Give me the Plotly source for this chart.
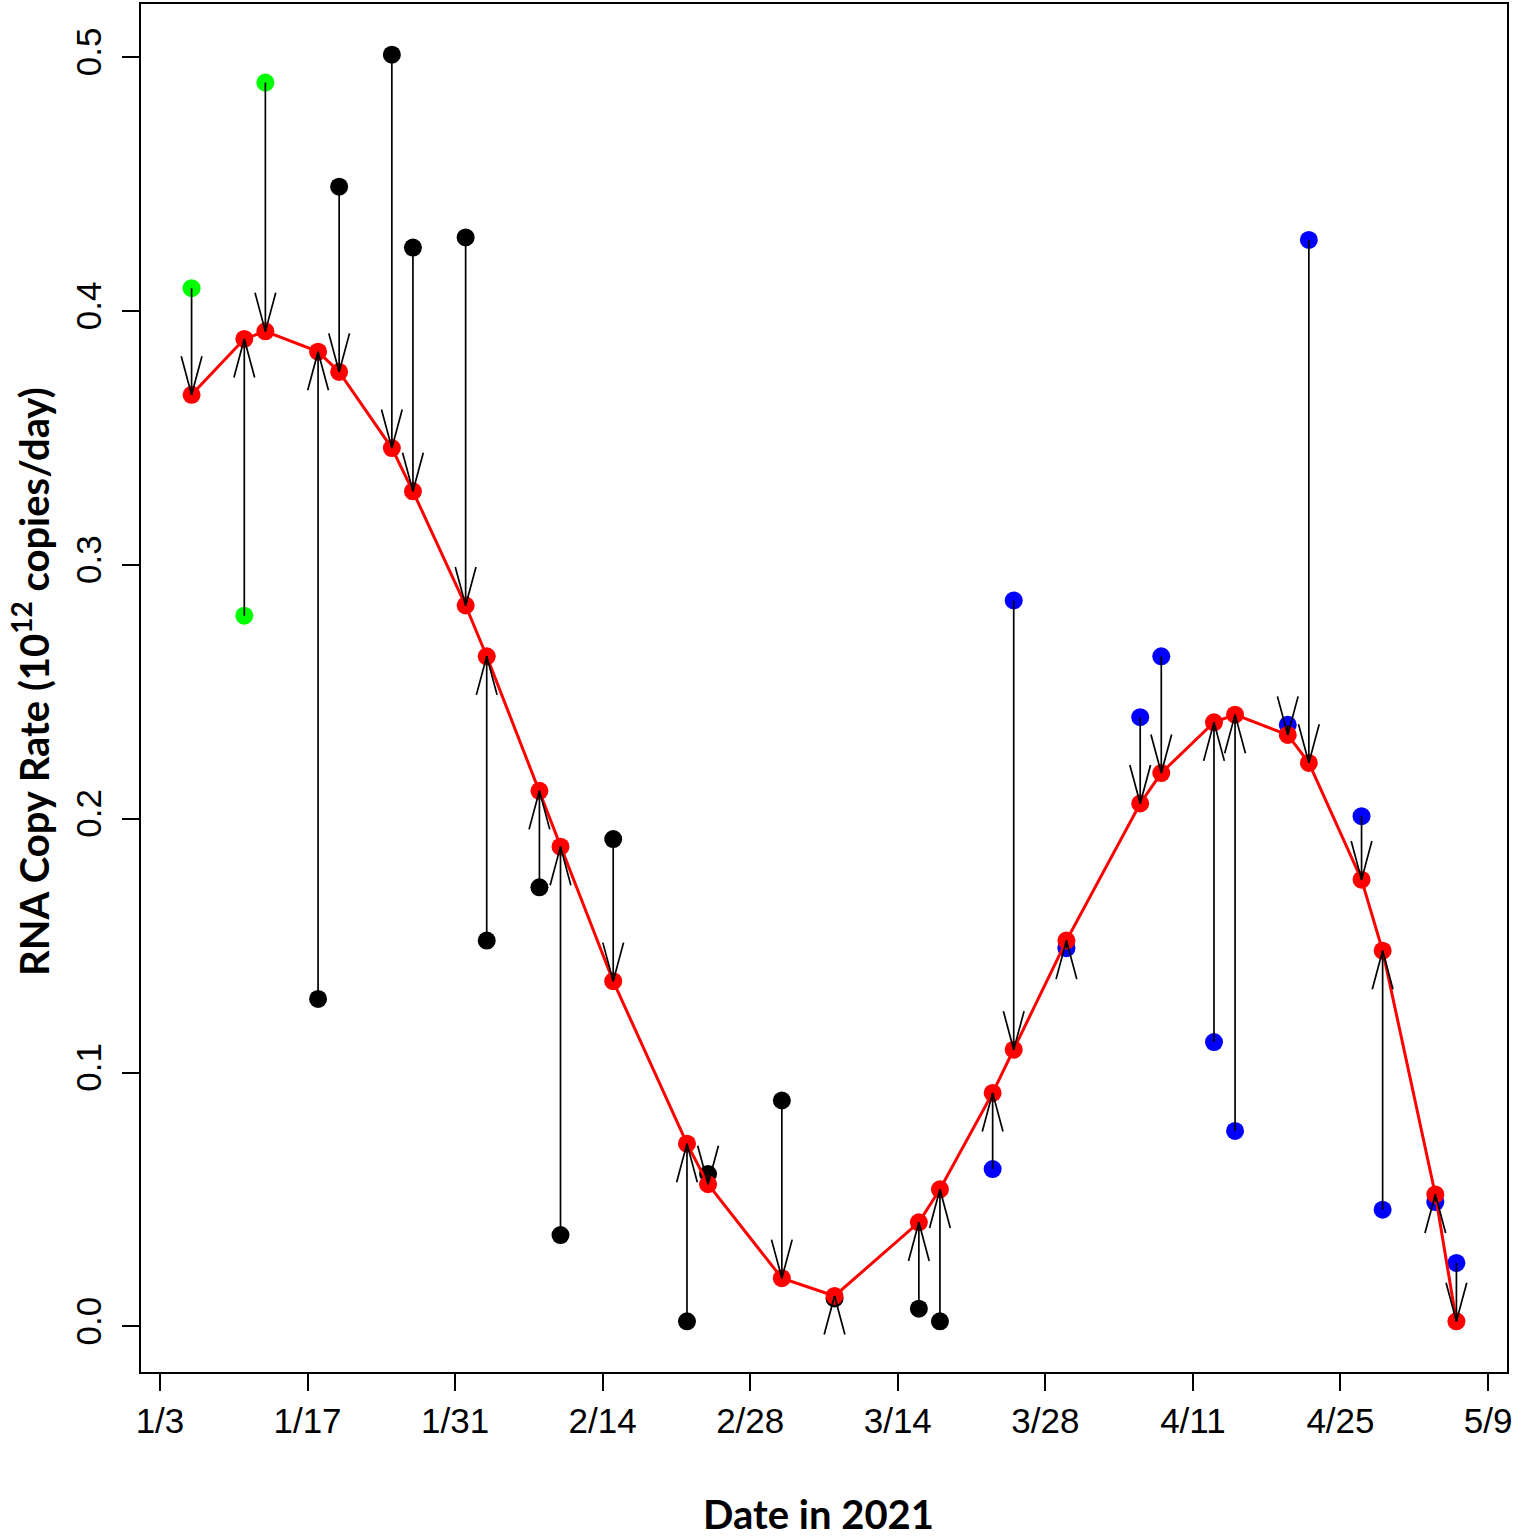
import math
import pandas as pd
import plotly.graph_objects as go

# ---------------- data ----------------
dates = ["2021-01-06", "2021-01-11", "2021-01-13", "2021-01-18", "2021-01-20",
         "2021-01-25", "2021-01-27", "2021-02-01", "2021-02-03", "2021-02-08",
         "2021-02-10", "2021-02-15", "2021-02-22", "2021-02-24", "2021-03-03",
         "2021-03-08", "2021-03-16", "2021-03-18", "2021-03-23", "2021-03-25",
         "2021-03-30", "2021-04-06", "2021-04-08", "2021-04-13", "2021-04-15",
         "2021-04-20", "2021-04-22", "2021-04-27", "2021-04-29", "2021-05-04",
         "2021-05-06"]
observed = [0.409, 0.280, 0.490, 0.129, 0.449,
            0.501, 0.425, 0.429, 0.152, 0.173,
            0.036, 0.192, 0.002, 0.060, 0.089,
            0.011, 0.007, 0.002, 0.062, 0.286,
            0.149, 0.240, 0.264, 0.112, 0.077,
            0.237, 0.428, 0.201, 0.046, 0.049,
            0.025]
fitted = [0.367, 0.389, 0.392, 0.384, 0.376,
          0.346, 0.329, 0.284, 0.264, 0.211,
          0.189, 0.136, 0.072, 0.056, 0.019,
          0.012, 0.041, 0.054, 0.092, 0.109,
          0.152, 0.206, 0.218, 0.238, 0.241,
          0.233, 0.222, 0.176, 0.148, 0.052,
          0.002]
period = (["early"] * 3) + (["middle"] * 15) + (["late"] * 13)
period_colors = {"early": "#00FF00", "middle": "#000000", "late": "#0000FF"}

tick_dates = ["2021-01-03", "2021-01-17", "2021-01-31", "2021-02-14", "2021-02-28",
              "2021-03-14", "2021-03-28", "2021-04-11", "2021-04-25", "2021-05-09"]
tick_labels = ["1/3", "1/17", "1/31", "2/14", "2/28", "3/14", "3/28", "4/11", "4/25", "5/9"]
y_ticks = [0.0, 0.1, 0.2, 0.3, 0.4, 0.5]
y_labels = ["0.0", "0.1", "0.2", "0.3", "0.4", "0.5"]

# ---------------- geometry ----------------
W, H = 1536, 1538
ML, MR, MT, MB = 141, 29, 2, 166
PW, PH = W - ML - MR, H - MT - MB

ts = [pd.Timestamp(d) for d in dates]
t0 = min(ts)
dmin, dmax = 0.0, (max(ts) - t0).total_seconds() / 86400
xpad = 0.04 * (dmax - dmin)
x_range = [t0 - pd.Timedelta(days=xpad), max(ts) + pd.Timedelta(days=xpad)]
allv = observed + fitted
ypad = 0.04 * (max(allv) - min(allv))
y_range = [min(allv) - ypad, max(allv) + ypad]

sx = PW / ((dmax - dmin) + 2 * xpad)       # px per day
sy = PH / (y_range[1] - y_range[0])        # px per unit

# arrows: shaft from observed to fitted, open V head at fitted
L, ang = 40.0, math.radians(15)
shaft_x, shaft_y, head_x, head_y = [], [], [], []
for t, o, f in zip(ts, observed, fitted):
    shaft_x += [t, t, None]
    shaft_y += [o, f, None]
    ux, uy = 0.0, (o - f) * sy
    n = math.hypot(ux, uy)
    if n == 0:
        continue
    ux, uy = ux / n, uy / n
    for s in (1, -1):
        wx = L * (ux * math.cos(s * ang) - uy * math.sin(s * ang))
        wy = L * (ux * math.sin(s * ang) + uy * math.cos(s * ang))
        head_x += [t + pd.Timedelta(days=wx / sx), t, None]
        head_y += [f + wy / sy, f, None]

fig = go.Figure()

for p in ["early", "middle", "late"]:
    idx = [i for i, q in enumerate(period) if q == p]
    fig.add_trace(go.Scatter(
        x=[ts[i] for i in idx], y=[observed[i] for i in idx],
        mode="markers", marker=dict(color=period_colors[p], size=18, line=dict(width=0)),
        name=p, showlegend=False))

fig.add_trace(go.Scatter(
    x=ts, y=fitted, mode="lines+markers",
    line=dict(color="#FF0000", width=3),
    marker=dict(color="#FF0000", size=18, line=dict(width=0)),
    showlegend=False))

fig.add_trace(go.Scatter(x=shaft_x, y=shaft_y, mode="lines",
                         line=dict(color="black", width=1.7), showlegend=False))
fig.add_trace(go.Scatter(x=head_x, y=head_y, mode="lines",
                         line=dict(color="black", width=1.7), showlegend=False))

axis_common = dict(showline=True, mirror=True, linecolor="black", linewidth=2,
                   ticks="outside", ticklen=17, tickwidth=2, tickcolor="black",
                   showgrid=False, zeroline=False,
                   tickfont=dict(family="Liberation Sans, Arial", size=35, color="black"))

fig.update_xaxes(type="date", range=x_range, tickvals=[pd.Timestamp(d) for d in tick_dates],
                 ticktext=tick_labels, ticklabelstandoff=0, **axis_common)
fig.update_yaxes(range=y_range, tickvals=y_ticks, ticktext=y_labels, tickangle=-90,
                 ticklabelstandoff=7, **axis_common)

fig.add_annotation(text="Date in 2021", xref="paper", yref="paper",
                   x=(818 - ML) / PW, y=(MT + PH - 1514) / PH,
                   xanchor="center", yanchor="middle", showarrow=False,
                   font=dict(family="Lato", size=40, color="black", weight="bold"))
fig.add_annotation(text="RNA Copy Rate (10<sup>12</sup> copies/day)", xref="paper", yref="paper",
                   x=(31 - ML) / PW, y=(MT + PH - 681) / PH, textangle=-90,
                   xanchor="center", yanchor="middle", showarrow=False,
                   font=dict(family="Lato", size=40, color="black", weight="bold"))

fig.update_layout(width=W, height=H, margin=dict(l=ML, r=MR, t=MT, b=MB),
                  plot_bgcolor="white", paper_bgcolor="white")

fig.write_html("out.html", config={"displayModeBar": False},
               post_script="document.body.style.margin='0';")
